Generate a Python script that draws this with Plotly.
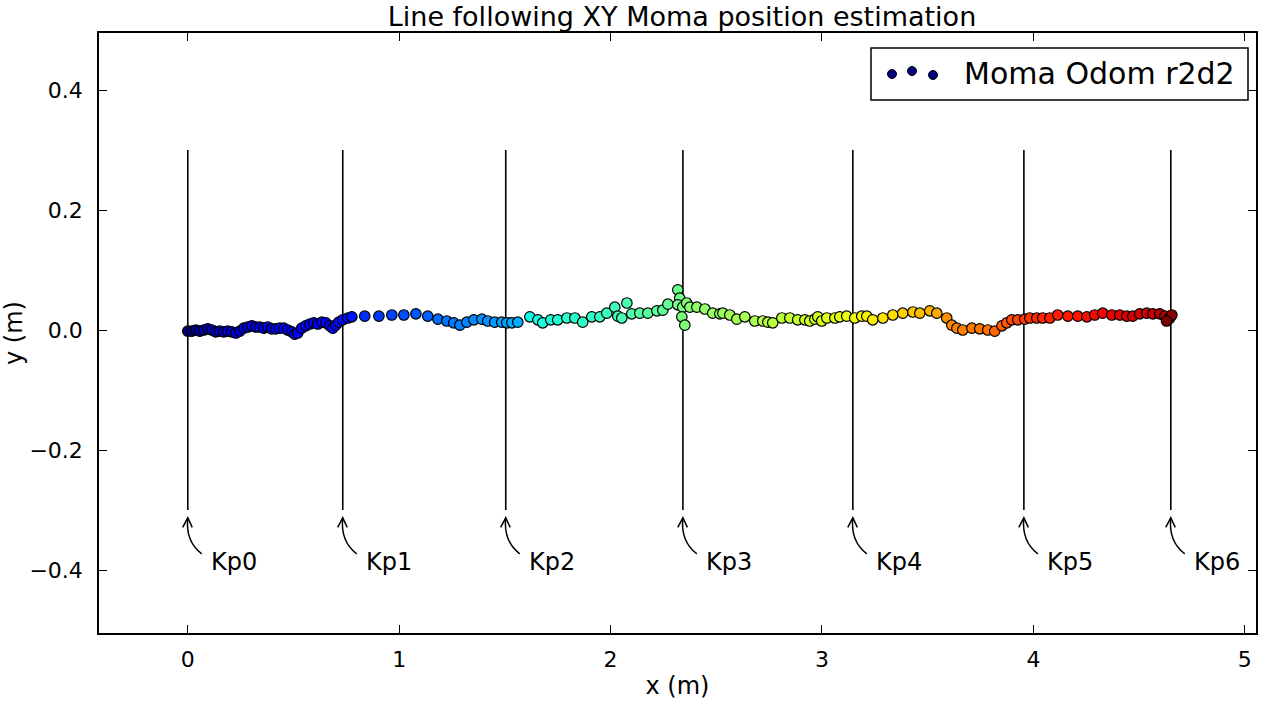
import plotly.graph_objects as go

# ---------------- data ----------------
x_pos = [
    0.000, 0.019, 0.038, 0.057, 0.076, 0.095, 0.114, 0.132, 0.151, 0.170,
    0.189, 0.208, 0.227, 0.246, 0.265, 0.284, 0.303, 0.322, 0.341, 0.360,
    0.378, 0.397, 0.416, 0.435, 0.454, 0.473, 0.492, 0.506, 0.520, 0.539,
    0.558, 0.577, 0.596, 0.615, 0.634, 0.653, 0.672, 0.686, 0.700, 0.714,
    0.733, 0.757, 0.776,
    0.837, 0.904, 0.965, 1.022, 1.079, 1.135, 1.183, 1.225, 1.258, 1.287,
    1.320, 1.353, 1.391, 1.419, 1.452, 1.485, 1.509, 1.533, 1.561,
    1.618, 1.656, 1.679, 1.717, 1.750, 1.793, 1.831, 1.868, 1.911, 1.949,
    1.982, 2.020, 2.034, 2.053, 2.077, 2.100, 2.138, 2.176, 2.219, 2.247,
    2.271,
    2.318, 2.327, 2.318, 2.341, 2.337, 2.351, 2.360, 2.375, 2.408, 2.446,
    2.483, 2.517, 2.531, 2.564, 2.597, 2.635,
    2.682, 2.720, 2.744, 2.767, 2.810, 2.848, 2.885, 2.919, 2.942, 2.966,
    2.980, 2.999, 3.023, 3.061, 3.084, 3.117, 3.155, 3.188, 3.212, 3.240,
    3.288, 3.335, 3.382, 3.430, 3.463, 3.510, 3.543,
    3.590, 3.614, 3.638, 3.666, 3.709, 3.746, 3.784, 3.817, 3.851, 3.874,
    3.898, 3.926, 3.959, 3.983, 4.016, 4.044, 4.078, 4.115, 4.163, 4.210,
    4.253, 4.290, 4.328, 4.371, 4.409, 4.442, 4.470, 4.503, 4.536, 4.565,
    4.598, 4.622, 4.636, 4.645, 4.655, 4.630,
]
y_pos = [
    -0.002, -0.002, 0.000, -0.002, 0.000, 0.002, 0.000, -0.003, -0.002, -0.003,
    -0.002, -0.003, -0.005, -0.002, 0.003, 0.005, 0.007, 0.005, 0.005, 0.003,
    0.005, 0.002, 0.002, 0.003, 0.003, 0.000, -0.003, -0.007, -0.005, 0.003,
    0.007, 0.010, 0.012, 0.010, 0.013, 0.012, 0.007, 0.003, 0.008, 0.013,
    0.017, 0.020, 0.022,
    0.023, 0.023, 0.025, 0.025, 0.027, 0.023, 0.018, 0.015, 0.012, 0.008,
    0.013, 0.017, 0.018, 0.015, 0.013, 0.013, 0.012, 0.012, 0.013,
    0.022, 0.017, 0.012, 0.017, 0.017, 0.020, 0.020, 0.013, 0.022, 0.022,
    0.028, 0.038, 0.023, 0.020, 0.045, 0.027, 0.028, 0.028, 0.032, 0.033,
    0.043,
    0.067, 0.053, 0.042, 0.038, 0.022, 0.008, 0.045, 0.038, 0.038, 0.035,
    0.028, 0.027, 0.028, 0.025, 0.018, 0.022,
    0.015, 0.015, 0.013, 0.012, 0.020, 0.020, 0.017, 0.017, 0.015, 0.018,
    0.022, 0.015, 0.020, 0.020, 0.022, 0.023, 0.020, 0.023, 0.023, 0.017,
    0.020, 0.025, 0.028, 0.030, 0.028, 0.032, 0.028,
    0.020, 0.008, 0.003, 0.000, 0.003, 0.002, 0.000, -0.002, 0.007, 0.012,
    0.017, 0.017, 0.018, 0.020, 0.020, 0.020, 0.020, 0.025, 0.023, 0.023,
    0.022, 0.025, 0.028, 0.025, 0.025, 0.023, 0.023, 0.027, 0.028, 0.027,
    0.027, 0.023, 0.017, 0.020, 0.025, 0.015,
]
# colour value of each sample (time fraction of the run)
t_val = [
    0.00, 0.01, 0.02, 0.03, 0.04, 0.045, 0.05, 0.055, 0.06, 0.065,
    0.07, 0.072, 0.075, 0.078, 0.08, 0.082, 0.085, 0.087, 0.09, 0.092,
    0.095, 0.097, 0.10, 0.102, 0.104, 0.106, 0.108, 0.11, 0.112, 0.114,
    0.116, 0.118, 0.12, 0.122, 0.124, 0.126, 0.128, 0.13, 0.132, 0.134,
    0.136, 0.14, 0.145,
    0.17, 0.18, 0.19, 0.20, 0.21, 0.22, 0.23, 0.24, 0.245, 0.25,
    0.255, 0.26, 0.265, 0.27, 0.275, 0.28, 0.285, 0.29, 0.295,
    0.37, 0.375, 0.38, 0.385, 0.39, 0.395, 0.40, 0.405, 0.41, 0.415,
    0.42, 0.425, 0.43, 0.435, 0.44, 0.445, 0.45, 0.455, 0.46, 0.465,
    0.47,
    0.48, 0.485, 0.49, 0.495, 0.50, 0.505, 0.51, 0.515, 0.52, 0.525,
    0.53, 0.535, 0.54, 0.545, 0.55, 0.555,
    0.56, 0.565, 0.57, 0.575, 0.58, 0.585, 0.59, 0.595, 0.60, 0.605,
    0.61, 0.615, 0.62, 0.625, 0.63, 0.635, 0.64, 0.645, 0.65, 0.66,
    0.67, 0.68, 0.69, 0.70, 0.71, 0.72, 0.73,
    0.76, 0.765, 0.77, 0.775, 0.78, 0.785, 0.79, 0.80, 0.81, 0.82,
    0.83, 0.84, 0.85, 0.86, 0.865, 0.87, 0.875, 0.88, 0.885, 0.89,
    0.895, 0.90, 0.905, 0.91, 0.915, 0.92, 0.925, 0.93, 0.935, 0.94,
    0.95, 0.96, 0.97, 0.98, 0.99, 1.00,
]

kp_x = [0.000, 0.733, 1.504, 2.342, 3.146, 3.955, 4.650]
kp_labels = ["Kp0", "Kp1", "Kp2", "Kp3", "Kp4", "Kp5", "Kp6"]
kp_y_span = [-0.3, 0.3]

x_ticks = [0, 1, 2, 3, 4, 5]
y_ticks = [-0.4, -0.2, 0.0, 0.2, 0.4]
y_ticktext = ["\u22120.4", "\u22120.2", "0.0", "0.2", "0.4"]

series_name = "Moma Odom r2d2"
title_text = "Line following XY Moma position estimation"

# matplotlib "jet"
jet = [
    [0.0, "rgb(0,0,127)"], [0.11, "rgb(0,0,255)"], [0.125, "rgb(0,0,255)"],
    [0.34, "rgb(0,219,255)"], [0.35, "rgb(0,229,247)"], [0.375, "rgb(21,255,226)"],
    [0.64, "rgb(238,255,8)"], [0.65, "rgb(247,246,0)"], [0.66, "rgb(255,236,0)"],
    [0.89, "rgb(255,19,0)"], [0.91, "rgb(232,0,0)"], [1.0, "rgb(127,0,0)"],
]

FONT = "DejaVu Sans"
fig = go.Figure()

# key-point vertical lines
for k in kp_x:
    fig.add_trace(go.Scatter(x=[k, k], y=kp_y_span, mode="lines",
                             line=dict(color="black", width=1.6),
                             showlegend=False, hoverinfo="skip"))

fig.add_trace(go.Scatter(
    x=x_pos, y=y_pos, mode="markers", name=series_name, showlegend=False,
    marker=dict(size=10.5, color=t_val, colorscale=jet, cmin=0, cmax=1,
                line=dict(color="black", width=1.2)),
))

shapes = []
annotations = []
for k, lab in zip(kp_x, kp_labels):
    shapes.append(dict(type="path", xref="x", yref="y",
                       path=f"M {k+0.066},-0.373 Q {k-0.012},-0.352 {k},-0.313",
                       line=dict(color="black", width=1.5)))
    shapes.append(dict(type="path", xref="x", yref="y",
                       path=f"M {k-0.024},-0.329 L {k},-0.313 L {k+0.021},-0.329",
                       line=dict(color="black", width=1.5)))
    annotations.append(dict(x=k + 0.1, y=-0.386, xref="x", yref="y", text=lab,
                            showarrow=False, xanchor="left", yanchor="middle",
                            font=dict(family=FONT, size=24, color="black")))

# legend box (drawn manually to mimic 3 scatter points)
shapes.append(dict(type="rect", xref="paper", yref="paper",
                   x0=(871 - 99) / 1157, x1=(1248 - 99) / 1157,
                   y0=(633 - 100) / 600, y1=(633 - 48) / 600,
                   line=dict(color="black", width=1.5), fillcolor="white"))
for px, py in [(892, 74), (912, 71), (933, 75)]:
    shapes.append(dict(type="circle", xref="paper", yref="paper",
                       xsizemode="pixel", ysizemode="pixel",
                       xanchor=(px - 99) / 1157, yanchor=(633 - py) / 600,
                       x0=-4.5, x1=4.5, y0=-4.5, y1=4.5,
                       fillcolor="rgb(0,0,127)", line=dict(color="black", width=1)))
annotations.append(dict(x=(1237 - 99) / 1157, y=(633 - 73) / 600, xref="paper", yref="paper",
                        text=series_name, showarrow=False, xanchor="right", yanchor="middle",
                        font=dict(family=FONT, size=30, color="black")))

fig.update_layout(
    width=1264, height=701,
    margin=dict(l=99, r=8, t=33, b=68),
    paper_bgcolor="white", plot_bgcolor="white",
    title=dict(text=title_text, x=(682) / 1264, xanchor="center", y=1 - 17 / 701,
               yanchor="middle", font=dict(family=FONT, size=27, color="black")),
    font=dict(family=FONT, color="black"),
    shapes=shapes, annotations=annotations,
    xaxis=dict(range=[-0.42, 5.053], tickvals=x_ticks, ticks="inside", ticklen=8,
               tickcolor="black", mirror="ticks", showline=True, linecolor="black",
               linewidth=1.5, showgrid=False, zeroline=False, automargin=False,
               tickfont=dict(family=FONT, size=22), ticklabelstandoff=6,
               title=dict(text="x (m)", font=dict(family=FONT, size=24), standoff=6)),
    yaxis=dict(range=[-0.505, 0.495], tickvals=y_ticks, ticktext=y_ticktext, ticks="inside",
               ticklen=8, tickcolor="black", mirror="ticks", showline=True,
               linecolor="black", linewidth=1.5, showgrid=False, zeroline=False,
               automargin=False,
               tickfont=dict(family=FONT, size=22), ticklabelstandoff=10,
               title=dict(text="y (m)", font=dict(family=FONT, size=24), standoff=10)),
)

fig.write_html("out.html")
